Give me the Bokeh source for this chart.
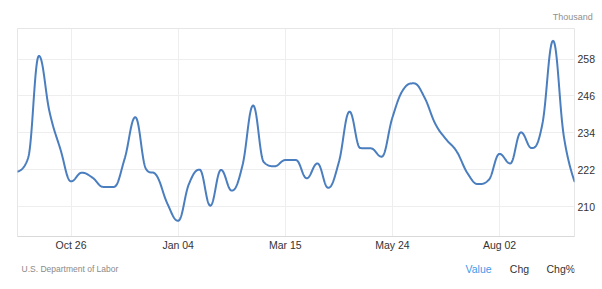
import numpy as np
import pandas as pd
from bokeh.plotting import figure
from bokeh.layouts import column
from bokeh.models import Range1d, FixedTicker, DatetimeTickFormatter, Label, Title
from bokeh.embed import file_html
from bokeh.resources import INLINE

# ---------------- data ----------------
first_week = "2024-09-21"
claims = [221.5, 226.0, 259.0, 240.7, 228.8, 218.3, 221.1, 219.5, 216.5, 216.5,
          225.6, 239.1, 222.3, 220.1, 211.0, 205.5, 217.4, 222.1, 210.4, 222.0,
          215.3, 223.4, 242.9, 224.5, 223.2, 225.2, 225.2, 219.3, 224.1, 216.2,
          224.5, 240.9, 229.1, 229.0, 226.3, 239.0, 248.0, 250.1, 245.5, 237.0,
          232.0, 228.0, 221.0, 217.4, 218.8, 227.2, 224.1, 234.2, 229.1, 236.9,
          263.9, 233.0, 218.3]
x_tick_dates = ["2024-10-26", "2025-01-04", "2025-03-15", "2025-05-24", "2025-08-02"]
y_ticks = [210, 222, 234, 246, 258]
unit_text = "Thousand"
source_text = "U.S. Department of Labor"
tab_texts = ["Value", "Chg", "Chg%"]

dates = pd.date_range(first_week, periods=len(claims), freq="7D")


def to_ms(d):
    return pd.Timestamp(d).value / 1e6


xs = np.array([to_ms(d) for d in dates])
ys = np.array(claims, dtype=float)


def spline_path(xs, ys, smoothing=1.5, n=30):
    N = len(xs)
    lcx, lcy = xs.copy(), ys.copy()
    rcx, rcy = xs.copy(), ys.copy()
    denom = smoothing + 1
    for i in range(1, N - 1):
        px, py = xs[i], ys[i]
        lx, ly = xs[i - 1], ys[i - 1]
        nx, ny = xs[i + 1], ys[i + 1]
        a_x = (smoothing * px + lx) / denom
        a_y = (smoothing * py + ly) / denom
        b_x = (smoothing * px + nx) / denom
        b_y = (smoothing * py + ny) / denom
        if b_x != a_x:
            corr = ((b_y - a_y) * (b_x - px)) / (b_x - a_x) + py - b_y
            a_y += corr
            b_y += corr
        if a_y > ly and a_y > py:
            a_y = max(ly, py); b_y = 2 * py - a_y
        elif a_y < ly and a_y < py:
            a_y = min(ly, py); b_y = 2 * py - a_y
        if b_y > ny and b_y > py:
            b_y = max(ny, py); a_y = 2 * py - b_y
        elif b_y < ny and b_y < py:
            b_y = min(ny, py); a_y = 2 * py - b_y
        lcx[i], lcy[i], rcx[i], rcy[i] = a_x, a_y, b_x, b_y
    t = np.linspace(0, 1, n)
    out_x, out_y = [xs[0]], [ys[0]]
    for i in range(N - 1):
        p0x, p0y = xs[i], ys[i]
        p1x, p1y = rcx[i], rcy[i]
        p2x, p2y = lcx[i + 1], lcy[i + 1]
        p3x, p3y = xs[i + 1], ys[i + 1]
        tt = t[1:]
        mt = 1 - tt
        bx = mt**3 * p0x + 3 * mt**2 * tt * p1x + 3 * mt * tt**2 * p2x + tt**3 * p3x
        by = mt**3 * p0y + 3 * mt**2 * tt * p1y + 3 * mt * tt**2 * p2y + tt**3 * p3y
        out_x.extend(bx.tolist())
        out_y.extend(by.tolist())
    return np.array(out_x), np.array(out_y)


sx, sy = spline_path(xs, ys)

FONT = "Liberation Sans"
W = 602

# ---------------- main chart ----------------
p = figure(width=W, height=255, x_axis_type="datetime", y_axis_location="right",
           output_backend="svg", toolbar_location=None,
           x_range=Range1d(xs[0], xs[-1]), y_range=Range1d(200.4, 267.9),
           min_border_left=17, min_border_right=28, min_border_top=28, min_border_bottom=19)

p.background_fill_color = "white"
p.border_fill_color = "white"
p.outline_line_color = "#e6e6e6"
p.outline_line_width = 1

p.add_layout(Title(text=unit_text, align="right", offset=-18.3, standoff=14,
                   text_font=FONT, text_font_size="9px", text_font_style="normal",
                   text_color="#909090", text_line_height=0.7), "above")

p.line(sx, sy, line_color="#4a7ebf", line_width=2, line_join="round", line_cap="round")

p.xaxis.ticker = FixedTicker(ticks=[to_ms(d) for d in x_tick_dates])
fmt = "%b %d"
p.xaxis.formatter = DatetimeTickFormatter(days=fmt, months=fmt, years=fmt, hours=fmt,
                                          minutes=fmt, seconds=fmt, milliseconds=fmt,
                                          minsec=fmt, hourmin=fmt)
p.xaxis.axis_line_color = "#d9d9d9"
p.xaxis.major_tick_line_color = None
p.xaxis.minor_tick_line_color = None
p.xaxis.major_tick_out = 0
p.xaxis.major_tick_in = 0
p.xaxis.major_label_standoff = 2
p.xaxis.major_label_text_font = FONT
p.xaxis.major_label_text_font_size = "10.5px"
p.xaxis.major_label_text_color = "#333333"

p.yaxis.ticker = FixedTicker(ticks=y_ticks)
p.yaxis.axis_line_color = None
p.yaxis.major_tick_line_color = None
p.yaxis.minor_tick_line_color = None
p.yaxis.major_tick_out = 0
p.yaxis.major_tick_in = 0
p.yaxis.major_label_standoff = 3
p.yaxis.major_label_text_font = FONT
p.yaxis.major_label_text_font_size = "10.5px"
p.yaxis.major_label_text_color = "#333333"

p.xgrid.grid_line_color = "#eeeeee"
p.ygrid.grid_line_color = "#eeeeee"

# ---------------- footer ----------------
footer = figure(width=W, height=34, output_backend="svg", toolbar_location=None,
                x_range=Range1d(0, W), y_range=Range1d(34, 0),
                x_axis_location=None, y_axis_location=None,
                min_border_left=0, min_border_right=0, min_border_top=0, min_border_bottom=0)
footer.outline_line_color = None
footer.grid.visible = False
footer.background_fill_color = "white"
footer.border_fill_color = "white"

footer.add_layout(Label(x=21, y=13.5, x_units="canvas", y_units="canvas", text=source_text,
                        text_font=FONT, text_font_size="8.5px", text_color="#8a8a8a",
                        text_align="left", text_baseline="middle"))
tab_x = [465, 509.3, 546]
tab_colors = ["#3d9be9", "#333333", "#333333"]
for tx, txt, col in zip(tab_x, tab_texts, tab_colors):
    footer.add_layout(Label(x=tx, y=13.5, x_units="canvas", y_units="canvas", text=txt,
                            text_font=FONT, text_font_size="10.5px", text_color=col,
                            text_align="left", text_baseline="middle"))

layout = column(p, footer, spacing=0)
open("out.html", "w").write(file_html(layout, INLINE))
